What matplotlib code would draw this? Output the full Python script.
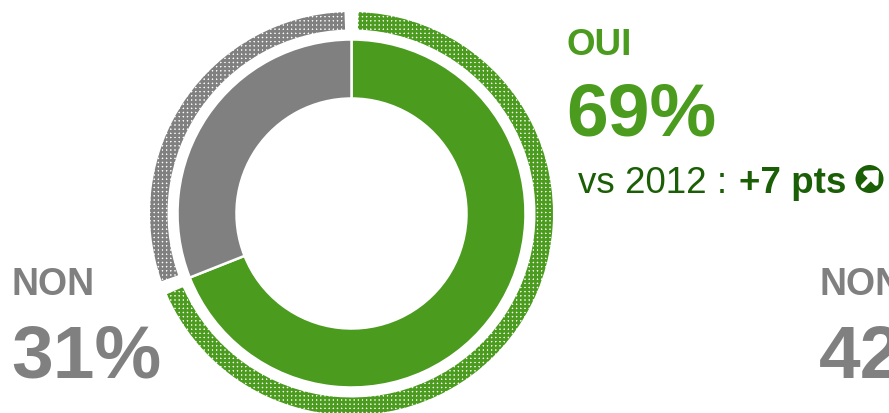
import matplotlib
matplotlib.use("Agg")
import numpy as np
import matplotlib.pyplot as plt
from matplotlib.patches import Wedge, Circle

plt.rcParams['font.family'] = ['Liberation Sans', 'DejaVu Sans']

# valeurs
labels = ["OUI", "NON"]
valeurs = [69, 31]
couleurs = ["#4a9b1e", "#808080"]
valeur_non_droite = 42
vert_fonce = "#1a5e05"

cx, cy = 351.5, 213.5

fig = plt.figure(figsize=(8.89, 4.13), dpi=100)
ax = fig.add_axes([0, 0, 1, 1])
ax.set_xlim(0, 889)
ax.set_ylim(413, 0)  # y vers le bas, comme des pixels
ax.axis("off")

plt.rcParams['hatch.linewidth'] = 1.9

# angles dans le sens horaire depuis le haut
bornes = np.cumsum([0] + valeurs) * 3.6 - 90
for i in range(len(valeurs)):
    # anneau plein
    ax.add_patch(Wedge((cx, cy), 174, bornes[i], bornes[i + 1], width=59,
                       facecolor=couleurs[i], edgecolor="white", linewidth=1.8))
    # anneau exterieur trame
    ax.add_patch(Wedge((cx, cy), 201.5, bornes[i] + 2, bornes[i + 1] - 2, width=17.5,
                       facecolor="white", edgecolor=couleurs[i], hatch="++++", linewidth=0))

# textes de gauche
ax.text(566.5, 55, labels[0], color=couleurs[0], fontsize=26.5, fontweight="bold")
ax.text(566, 136, f"{valeurs[0]}%", color=couleurs[0], fontsize=54, fontweight="bold")
ax.text(578, 193, "vs 2012 : ", color=vert_fonce, fontsize=26.5)
ax.text(739, 193, "+7 pts", color=vert_fonce, fontsize=26.5, fontweight="bold")

ax.text(12, 295, labels[1], color=couleurs[1], fontsize=27, fontweight="bold")
ax.text(11.5, 377, f"{valeurs[1]}%", color=couleurs[1], fontsize=54, fontweight="bold")

# deuxieme graphique coupe a droite
ax.text(819, 295, labels[1], color=couleurs[1], fontsize=27, fontweight="bold", clip_on=True)
ax.text(818.5, 377, f"{valeur_non_droite}%", color=couleurs[1], fontsize=54, fontweight="bold", clip_on=True)

# pastille avec la fleche
ax.add_patch(Circle((869.5, 179), 14, facecolor=vert_fonce, edgecolor="none"))
ax.annotate("", xy=(879, 170), xytext=(863, 186),
            arrowprops=dict(arrowstyle="-|>,head_width=0.55,head_length=0.6", color="white",
                            lw=3.2, shrinkA=0, shrinkB=0))

fig.savefig("out.png", dpi=100)
